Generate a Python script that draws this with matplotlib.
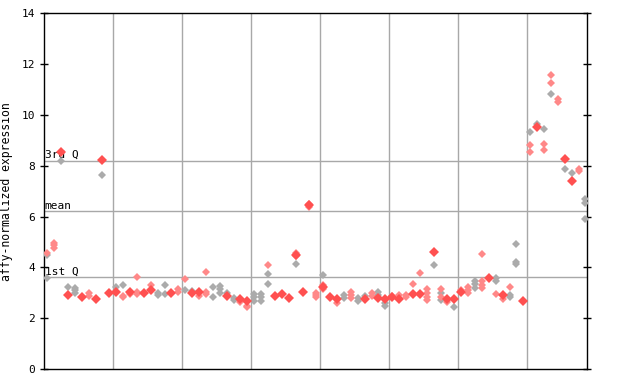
import numpy as np
import matplotlib as mpl
mpl.use('agg')
import matplotlib.pyplot as plt

# sample index, expression value, kind: s = solid red, r = red replicate, g = grey replicate
sample_idx = [
    0, 0, 0, 1, 1, 1, 2, 2, 3, 3, 4, 4, 4, 5, 6, 6, 7, 8, 8, 9,
    10, 10, 11, 11, 11, 12, 12, 13, 13, 13, 14, 15, 15, 16, 16, 17, 17, 18, 19, 19,
    20, 20, 21, 21, 22, 22, 23, 23, 23, 24, 24, 25, 25, 25, 26, 26, 27, 27, 28, 28,
    29, 29, 29, 30, 30, 30, 31, 31, 31, 32, 32, 32, 33, 34, 35, 36, 36, 36, 36, 37,
    38, 38, 38, 39, 39, 39, 40, 40, 40, 40, 41, 42, 42, 43, 43, 44, 44, 44, 45, 45,
    46, 46, 47, 47, 48, 48, 48, 49, 49, 49, 50, 50, 51, 51, 52, 52, 53, 53, 54, 54,
    55, 55, 55, 55, 56, 56, 57, 57, 57, 57, 58, 58, 59, 59, 60, 60, 61, 61, 61, 62,
    62, 62, 63, 63, 63, 63, 64, 64, 65, 65, 65, 66, 66, 67, 67, 67, 68, 68, 68, 69,
    70, 70, 70, 71, 71, 72, 72, 72, 73, 73, 73, 74, 74, 75, 75, 76, 76, 77, 77, 78,
    78, 78,
]
values = [
    4.55, 4.50, 3.57, 4.97, 4.88, 4.75, 8.56, 8.20, 2.93, 3.22, 3.20, 3.10, 3.00, 2.85, 2.98, 2.87, 2.75, 8.23, 7.64, 3.00,
    3.04, 3.22, 3.30, 2.88, 2.82, 3.04, 2.95, 3.62, 3.04, 2.94, 3.00, 3.12, 3.30, 3.00, 2.90, 3.30, 2.97, 3.00, 3.16, 3.04,
    3.53, 3.10, 2.98, 3.08, 3.04, 2.88, 3.81, 3.04, 2.94, 3.22, 2.83, 3.27, 3.14, 3.01, 2.87, 2.99, 2.79, 2.70, 2.75, 2.65,
    2.67, 2.50, 2.44, 2.95, 2.82, 2.68, 2.95, 2.82, 2.68, 4.08, 3.73, 3.33, 2.87, 2.95, 2.80, 4.50, 4.58, 4.44, 4.12, 3.02,
    6.44, 6.50, 6.37, 3.00, 2.92, 2.83, 3.69, 3.22, 3.30, 3.14, 2.85, 2.74, 2.60, 2.92, 2.78, 3.04, 2.91, 2.80, 2.78, 2.69,
    2.76, 2.87, 3.00, 2.87, 2.80, 3.04, 2.93, 2.74, 2.60, 2.50, 2.82, 2.89, 2.76, 2.93, 2.93, 2.82, 2.96, 3.34, 2.97, 3.76,
    3.15, 3.00, 2.85, 2.72, 4.60, 4.09, 3.15, 3.00, 2.85, 2.72, 2.76, 2.65, 2.76, 2.45, 3.03, 3.10, 3.22, 3.10, 3.00, 3.47,
    3.35, 3.20, 4.53, 3.45, 3.32, 3.18, 3.57, 3.60, 3.60, 3.47, 2.97, 2.93, 2.74, 3.22, 2.93, 2.84, 4.92, 4.20, 4.12, 2.68,
    9.32, 8.80, 8.56, 9.54, 9.65, 9.44, 8.86, 8.61, 11.56, 11.25, 10.81, 10.64, 10.50, 8.28, 7.86, 7.41, 7.70, 7.86, 7.80, 6.69,
    6.52, 5.90,
]
kinds = (
    "rgg" "rrr" "sg" "sg" "ggg" "s" "rr" "s" "sg" "s"
    "sg" "grr" "sr" "rrr" "s" "sr" "gg" "gg" "s" "rr"
    "rg" "sg" "sr" "rrr" "gg" "ggg" "sg" "gg" "sr"
    "srr" "ggg" "ggg" "rgg" "s" "s" "s" "srrg" "s"
    "srr" "rrr" "gsrr" "s" "sr" "gg" "rrr" "gg"
    "sg" "rr" "sgg" "sgg" "sr" "sr" "rr" "sr" "sr"
    "rrrr" "sg" "rgrg" "sr" "sg" "sr" "rrr" "ggg"
    "rrrr" "sr" "ggr" "sr" "rgg" "ggg" "s"
    "grr" "sg" "grr" "rrg" "rr" "sg" "sg" "rr" "ggg"
)

stats_names = ["3rd Q", "mean", "1st Q"]
stats_values = [8.2, 6.21, 3.62]

idx = np.array(sample_idx)
vals = np.array(values)
kind = np.array(list(kinds))
xpos = idx + 0.435

fig = plt.figure(figsize=(6.4, 3.84), dpi=100)
ax = fig.add_axes([0.0692, 0.039, 0.8484, 0.9263])

mono = 'DejaVu Sans Mono'

# grid lines between sample groups
for gx in range(10, 80, 10):
    ax.axvline(gx, color='#a8a8a8', linewidth=1, zorder=1)
for name, v in zip(stats_names, stats_values):
    ax.axhline(v, color='#a8a8a8', linewidth=1, zorder=1)
    ax.text(0.05, v + 0.02, name, family=mono, fontsize=8, ha='left', va='bottom', zorder=2)

m = kind == 'g'
ax.plot(xpos[m], vals[m], 'D', ms=3.7, color='#ababab', mew=0, zorder=3)
m = kind == 'r'
ax.plot(xpos[m], vals[m], 'D', ms=3.7, color='#ff8888', mew=0, zorder=4)
m = kind == 's'
ax.plot(xpos[m], vals[m], 'D', ms=4.9, color='#ff5050', mew=0, zorder=5)

ax.set_xlim(0, 78.7)
ax.set_ylim(0, 14)
ax.set_xticks([])
ax.set_yticks(range(0, 15, 2))
ax.tick_params(axis='y', direction='inout', length=6, width=1, labelsize=8,
               right=True, labelright=False)
for lab in ax.get_yticklabels():
    lab.set_family(mono)
for sp in ax.spines.values():
    sp.set_linewidth(1)
ax.set_ylabel("affy-normalized expression", family=mono, fontsize=8.3, labelpad=6)

fig.savefig('out.png', dpi=100)
